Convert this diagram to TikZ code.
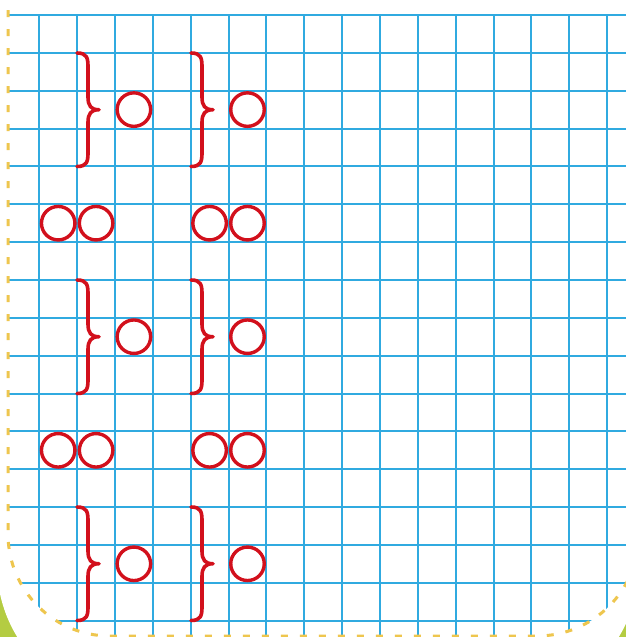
\documentclass[tikz,border=0pt]{standalone}
\definecolor{gridblue}{RGB}{48,170,224}
\definecolor{inkred}{RGB}{210,16,28}
\definecolor{dashyellow}{RGB}{238,198,78}
\definecolor{bggreen}{RGB}{180,204,66}
\begin{document}
\begin{tikzpicture}[x=1pt,y=-1pt,
  gridline/.style={gridblue,line width=2pt},
  bracepath/.style={inkred,line width=3.6pt,line cap=round,line join=round},
  ring/.style={circle,draw=inkred,line width=3.4pt,minimum size=33.5pt,inner sep=0pt,outer sep=0pt},
  border/.style={dashyellow,line width=3pt,dash pattern=on 7pt off 12pt},
  pics/rbrace/.style={code={
    \draw[bracepath] (0,0) .. controls (10,0) and (11,5) .. (11,14) -- (11,44)
      .. controls (11,53) and (14,56.75) .. (22,56.75)
      .. controls (14,56.75) and (11,60.5) .. (11,69.5) -- (11,99.5)
      .. controls (11,108.5) and (10,113.5) .. (0,113.5);}}]
\useasboundingbox (0,0) rectangle (626,637);
\clip (0,0) rectangle (626,637);
% background
\fill[bggreen] (0,0) rectangle (626,637);
\fill[white] (-3,-10) -- (-3,565) .. controls (-3,641.2) and (58.8,703) .. (135,703)
  -- (501,703) .. controls (577.2,703) and (639,641.2) .. (639,565) -- (639,-10) -- cycle;
% grid
\begin{scope}
  \clip (8,0) -- (8,534) .. controls (8,590.3) and (53.7,636) .. (110,636)
    -- (537,636) .. controls (593.3,636) and (639,590.3) .. (639,534) -- (639,0) -- cycle;
  \foreach \j in {0,...,16}
    \draw[gridline] (8,{round(15+37.85*\j)}) -- (630,{round(15+37.85*\j)});
  \foreach \k in {0,...,15}
    \draw[gridline] ({round(39.3+37.85*\k)},14) -- ({round(39.3+37.85*\k)},640);
\end{scope}
% dashed border
\draw[border] (8,10) -- (8,534) .. controls (8,590.3) and (53.7,636) .. (110,636)
  -- (537,636) .. controls (593.3,636) and (639,590.3) .. (639,534);
% braces with circles
\foreach \yt/\ym/\n in {53/109.6/a, 280/336.7/b, 507/563.8/c}{
  \pic at (77,\yt) {rbrace};
  \pic at (191,\yt) {rbrace};
  \node[ring] (\n1) at (133.9,\ym) {};
  \node[ring] (\n2) at (247.5,\ym) {};
}
% circle pairs
\foreach \yy/\n in {223.2/p, 450.3/q}{
  \node[ring] (\n1) at (58.2,\yy) {};
  \node[ring] (\n2) at (96.1,\yy) {};
  \node[ring] (\n3) at (209.6,\yy) {};
  \node[ring] (\n4) at (247.5,\yy) {};
}
\end{tikzpicture}
\end{document}
